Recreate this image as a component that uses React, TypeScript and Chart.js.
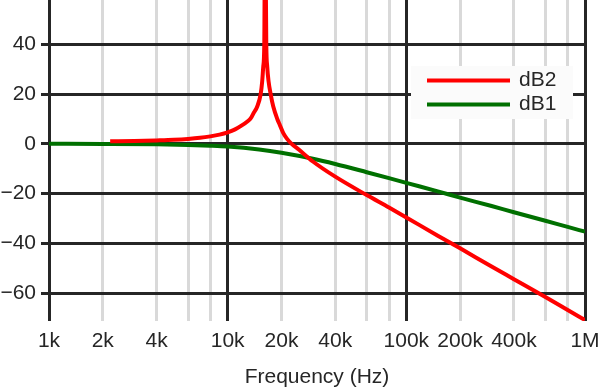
import { useEffect, useRef } from 'react';
import { Chart, registerables } from 'chart.js';

Chart.register(...registerables);

// ---- data ----
const seriesNames = ['dB2', 'dB1'];

const dB1Freq = [1000, 2000, 4000, 6000, 8000, 10000, 15000, 20000, 30000, 40000, 60000, 80000, 100000, 150000, 200000, 300000, 400000, 600000, 800000, 1000000];
const dB1Values = [0, -0.05, -0.2, -0.45, -0.75, -1.1, -2.3, -3.6, -6.0, -8.1, -11.4, -13.8, -15.7, -19.1, -21.6, -25.0, -27.5, -30.9, -33.4, -35.3];

const dB2Freq = [2200, 3000, 4000, 5000, 6000, 7000, 8000, 9000, 10000, 11000, 12000, 13000, 13450, 14000, 14640, 15300, 15600, 15820, 16030, 16200, 16450, 16650, 16950, 17400, 18000, 18950, 19600, 20480, 21500, 22800, 25000, 30000, 40000, 60000, 80000, 100000, 150000, 200000, 300000, 400000, 600000, 800000, 1000000];
const dB2Values = [1.0, 1.1, 1.35, 1.6, 1.95, 2.4, 3.0, 3.7, 4.6, 5.8, 7.4, 9.2, 10.2, 12.5, 15.0, 20.0, 25.0, 31.0, 40.0, 95.0, 40.0, 31.0, 25.0, 20.0, 15.0, 10.0, 7.5, 4.3, 2.0, 0.0, -2.3, -7.1, -13.2, -20.6, -25.6, -29.6, -36.9, -42.0, -49.3, -54.4, -61.6, -66.8, -70.8];

const xTickValues = [1000, 2000, 4000, 6000, 8000, 10000, 20000, 40000, 60000, 80000, 100000, 200000, 400000, 600000, 800000, 1000000];
const xTickLabels = ['1k', '2k', '4k', '', '', '10k', '20k', '40k', '', '', '100k', '200k', '400k', '', '', '1M'];

const yTickValues = [-60, -40, -20, 0, 20, 40];
const yTickLabels = ['\u221260', '\u221240', '\u221220', '0', '20', '40'];

const xTitle = 'Frequency (Hz)';

const X_MIN = 1000;
const X_MAX = 1000000;
const Y_MIN = -71.2;
const Y_MAX = 57.8;

// ---- styles ----
const FONT_FAMILY = '"Liberation Sans", Arial, Helvetica, sans-serif';
const TEXT_COLOR = '#262626';
const MAJOR_GRID = '#262626';
const MINOR_GRID = '#d9d9d9';
const RED = '#ff0000';
const GREEN = '#007000';

const isDecade = (v: number) => Math.abs(Math.log10(v) - Math.round(Math.log10(v))) < 1e-6;

const legendPlugin = {
  id: 'insideLegend',
  afterDraw(chart: any) {
    const ctx = chart.ctx;
    const area = chart.chartArea;
    const boxX = area.right - 174;
    const boxY = area.top + 66;
    const boxW = 162;
    const boxH = 53;
    ctx.save();
    ctx.fillStyle = '#fbfbfb';
    ctx.fillRect(boxX, boxY, boxW, boxH);
    const ds = chart.data.datasets;
    ds.forEach((d: any, i: number) => {
      const y = boxY + 14.5 + i * 24;
      ctx.strokeStyle = d.borderColor;
      ctx.lineWidth = 4;
      ctx.beginPath();
      ctx.moveTo(boxX + 16, y);
      ctx.lineTo(boxX + 99, y);
      ctx.stroke();
      ctx.fillStyle = TEXT_COLOR;
      ctx.font = `21px ${FONT_FAMILY}`;
      ctx.textBaseline = 'middle';
      ctx.textAlign = 'left';
      ctx.fillText(d.label, boxX + 108, y);
    });
    ctx.restore();
  },
};

export default function App() {
  const canvasRef = useRef<HTMLCanvasElement | null>(null);

  useEffect(() => {
    document.body.style.margin = '0';
    const canvas = canvasRef.current;
    if (!canvas) return;

    const chart = new Chart(canvas, {
      type: 'line',
      data: {
        datasets: [
          {
            label: seriesNames[0],
            data: dB2Freq.map((f, i) => ({ x: f, y: dB2Values[i] })),
            borderColor: RED,
            backgroundColor: RED,
            borderWidth: 4,
            pointRadius: 0,
            fill: false,
            cubicInterpolationMode: 'monotone',
          },
          {
            label: seriesNames[1],
            data: dB1Freq.map((f, i) => ({ x: f, y: dB1Values[i] })),
            borderColor: GREEN,
            backgroundColor: GREEN,
            borderWidth: 4,
            pointRadius: 0,
            fill: false,
            cubicInterpolationMode: 'monotone',
          },
        ],
      },
      options: {
        responsive: false,
        animation: false,
        devicePixelRatio: 1,
        layout: { padding: { left: 0, right: 15, top: 0, bottom: 0 } },
        plugins: {
          legend: { display: false },
          tooltip: { enabled: false },
        },
        scales: {
          x: {
            type: 'logarithmic',
            min: X_MIN,
            max: X_MAX,
            border: { display: false },
            grid: {
              drawTicks: false,
              lineWidth: 3,
              color: (c: any) => (c.tick && isDecade(c.tick.value) ? MAJOR_GRID : MINOR_GRID),
            },
            afterBuildTicks: (scale: any) => {
              scale.ticks = xTickValues.map((v) => ({ value: v }));
            },
            afterFit: (scale: any) => {
              scale.height = 69;
              scale.paddingLeft = 0;
              scale.paddingRight = 0;
            },
            ticks: {
              autoSkip: false,
              maxRotation: 0,
              minRotation: 0,
              padding: 8,
              color: TEXT_COLOR,
              font: { family: FONT_FAMILY, size: 21 },
              callback: (_v: any, i: number) => xTickLabels[i],
            },
            title: {
              display: true,
              text: xTitle,
              color: TEXT_COLOR,
              padding: { top: 0, bottom: 0 },
              font: { family: FONT_FAMILY, size: 21 },
            },
          },
          y: {
            type: 'linear',
            min: Y_MIN,
            max: Y_MAX,
            border: { display: false },
            grid: {
              color: MAJOR_GRID,
              lineWidth: 3,
              drawTicks: true,
              tickLength: 8,
            },
            afterBuildTicks: (scale: any) => {
              scale.ticks = yTickValues.map((v) => ({ value: v }));
            },
            afterFit: (scale: any) => {
              scale.width = 49;
              scale.paddingTop = 0;
              scale.paddingBottom = 0;
            },
            ticks: {
              autoSkip: false,
              padding: 5,
              color: TEXT_COLOR,
              font: { family: FONT_FAMILY, size: 21 },
              callback: (_v: any, i: number) => yTickLabels[i],
            },
          },
        },
      },
      plugins: [legendPlugin],
    } as any);

    return () => chart.destroy();
  }, []);

  return (
    <div style={{ width: 600, height: 390 }}>
      <canvas ref={canvasRef} width={600} height={390} style={{ display: 'block' }} />
    </div>
  );
}
